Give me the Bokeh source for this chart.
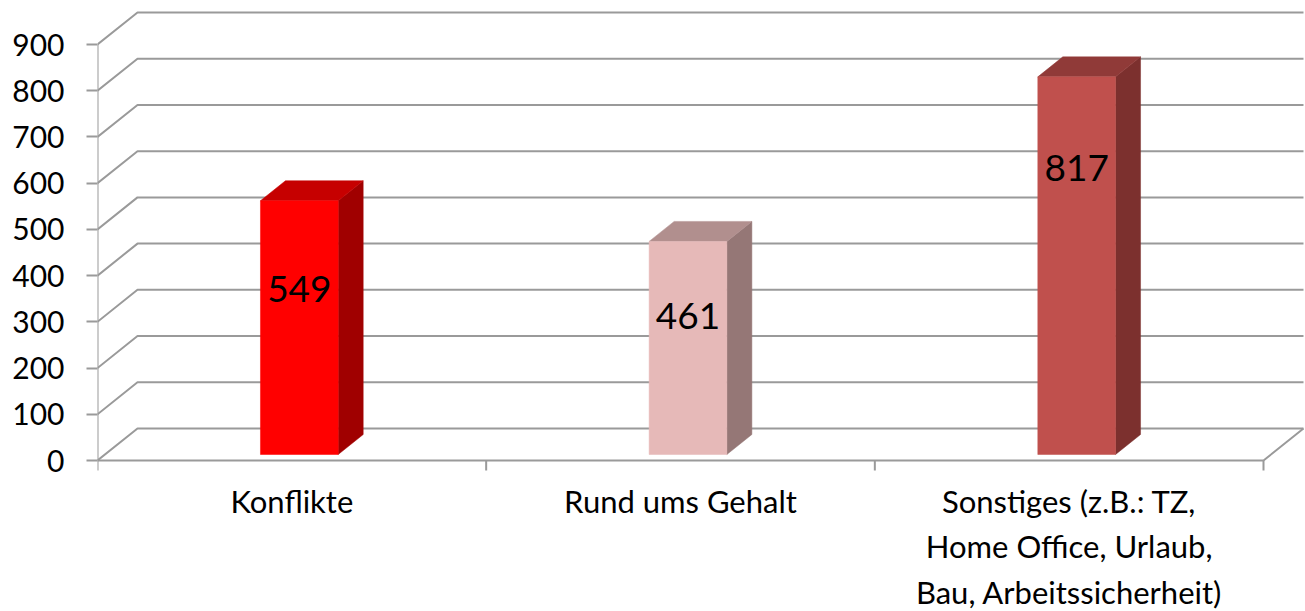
from bokeh.plotting import figure
from bokeh.models import FixedTicker, Range1d
from bokeh.core.properties import value
from bokeh.embed import file_html
from bokeh.resources import INLINE

# ---- data ----
categories = ["Konflikte", "Rund ums Gehalt",
              "Sonstiges (z.B.: TZ,\nHome Office, Urlaub,\nBau, Arbeitssicherheit)"]
counts = [549, 461, 817]
y_ticks = [0, 100, 200, 300, 400, 500, 600, 700, 800, 900]
front_colors = ["#ff0000", "#e6b9b8", "#c0504d"]
top_colors = ["#c60000", "#b18f8e", "#903a38"]
side_colors = ["#a00000", "#957776", "#7c302e"]
label_at = [357, 299, 619]

# ---- geometry / style ----
FRAME_W, FRAME_H = 1208, 464
PX_PER_CAT = 1166 / 3
PX_PER_VAL = 416 / 900
x_end = FRAME_W / PX_PER_CAT
y_start = -12 / PX_PER_VAL
y_end = (FRAME_H - 12) / PX_PER_VAL
DEPTH_X = 40 / PX_PER_CAT
DEPTH_Y = 32 / PX_PER_VAL
TICK_LOW = -10 / PX_PER_VAL
BAR_W = 0.2
BAR_OFF = 0.1875
BAR_DEPTH = 0.625
GRID = "#9a9a9a"
n = len(categories)

p = figure(frame_width=FRAME_W, frame_height=FRAME_H,
           x_range=Range1d(0, x_end), y_range=Range1d(y_start, y_end),
           output_backend="svg", toolbar_location=None,
           min_border_left=97, min_border_right=0, min_border_top=8,
           min_border_bottom=139)
p.outline_line_color = None
p.xgrid.visible = False
p.ygrid.visible = False
p.background_fill_color = "white"
p.border_fill_color = "white"

# back wall gridlines with side-wall diagonals
gx = [[0, DEPTH_X, n + DEPTH_X] for v in y_ticks]
gy = [[v, v + DEPTH_Y, v + DEPTH_Y] for v in y_ticks]
p.multi_line(gx, gy, line_color=GRID, line_width=2)

# floor front edge and right edge
p.line([0, n, n + DEPTH_X], [0, 0, DEPTH_Y], line_color=GRID, line_width=2)
# vertical axis line
p.segment(x0=[0], y0=[TICK_LOW], x1=[0], y1=[y_ticks[-1]], line_color=GRID, line_width=2)
# category boundary ticks
bx = list(range(1, n + 1))
p.segment(x0=bx, y0=[0] * n, x1=bx, y1=[TICK_LOW] * n, line_color=GRID, line_width=2)

# bars
fx, fy, tx, ty, sx, sy, cx = [], [], [], [], [], [], []
for i, v in enumerate(counts):
    c = i + 0.5
    x0 = c - BAR_W / 2 + BAR_OFF * DEPTH_X
    x1 = x0 + BAR_W
    yb = BAR_OFF * DEPTH_Y
    yt = yb + v
    dx = BAR_DEPTH * DEPTH_X
    dy = BAR_DEPTH * DEPTH_Y
    fx.append([x0, x1, x1, x0]); fy.append([yb, yb, yt, yt])
    tx.append([x0, x1, x1 + dx, x0 + dx]); ty.append([yt, yt, yt + dy, yt + dy])
    sx.append([x1, x1 + dx, x1 + dx, x1]); sy.append([yb, yb + dy, yt + dy, yt])
    cx.append((x0 + x1) / 2)

p.patches(sx, sy, fill_color=side_colors, line_color=side_colors, line_width=0.5)
p.patches(tx, ty, fill_color=top_colors, line_color=top_colors, line_width=0.5)
p.patches(fx, fy, fill_color=front_colors, line_color=front_colors, line_width=0.5)

p.text(x=cx, y=[a + BAR_OFF * DEPTH_Y for a in label_at], text=[str(v) for v in counts],
       text_align="center", text_baseline="middle",
       text_font=value("Lato"), text_font_size="37px", text_color="black")

# axes
p.yaxis.ticker = FixedTicker(ticks=y_ticks)
p.yaxis.axis_line_color = None
p.yaxis.major_tick_out = 11
p.yaxis.major_tick_in = 0
p.yaxis.major_tick_line_color = GRID
p.yaxis.major_tick_line_width = 2
p.yaxis.minor_tick_line_color = None
p.yaxis.major_label_text_font = "Lato"
p.yaxis.major_label_text_font_size = "30px"
p.yaxis.major_label_text_color = "black"
p.yaxis.major_label_standoff = 22

p.xaxis.ticker = FixedTicker(ticks=[i + 0.5 for i in range(n)])
p.xaxis.major_label_overrides = {i + 0.5: categories[i] for i in range(n)}
p.xaxis.axis_line_color = None
p.xaxis.major_tick_out = 0
p.xaxis.major_tick_in = 0
p.xaxis.minor_tick_line_color = None
p.xaxis.major_label_text_font = "Lato"
p.xaxis.major_label_text_font_size = "31px"
p.xaxis.major_label_text_color = "black"
p.xaxis.major_label_standoff = 9

open("out.html", "w").write(file_html(p, INLINE))
